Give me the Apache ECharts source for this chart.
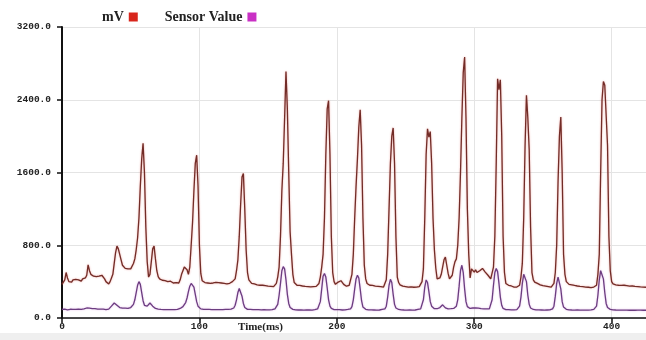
<!DOCTYPE html>
<html>
<head>
<meta charset="utf-8">
<script src="https://cdn.jsdelivr.net/npm/echarts@6/dist/echarts.min.js"></script>
<style>html,body{margin:0;padding:0;background:#fff}#c{width:646px;height:340px}</style>
</head>
<body>
<div id="c"></div>
<script>
// sampling step of both series, in ms
const sampleStepMs = 1;
const seriesNames = ['mV', 'Sensor Value'];
const yTicks = [0, 800, 1600, 2400, 3200];
const xTicks = [0, 100, 200, 300, 400];
const xAxisTitle = 'Time(ms)';

// mV readings, one per ms from t = 0
const mvValues = [
  370,360,420,500,440,400,410,395,420,410,
  425,415,420,412,405,430,415,440,470,585,
  520,480,475,460,470,455,450,460,440,470,
  475,430,400,380,375,400,440,480,600,720,
  790,760,740,640,580,560,545,550,540,555,
  540,560,600,650,750,880,1100,1450,1750,1920,
  1600,1000,620,450,480,620,760,790,650,520,
  455,430,420,415,400,410,395,400,390,405,
  395,385,400,390,380,385,420,480,520,560,
  570,530,480,560,800,1050,1400,1700,1790,1450,
  800,490,410,395,390,400,385,395,380,390,
  385,378,392,380,390,376,385,395,380,388,
  375,390,382,395,400,410,430,520,640,900,
  1250,1550,1590,1200,750,500,420,400,380,395,
  375,385,365,380,360,375,360,370,355,365,
  350,360,348,355,345,350,380,450,560,900,
  1400,1700,2200,2710,2300,1600,950,700,480,390,
  370,360,372,358,365,352,360,348,355,345,
  352,342,350,345,355,348,350,380,450,560,
  700,1100,1800,2300,2390,1800,900,500,400,370,
  380,395,385,410,395,370,360,350,345,360,
  380,480,700,1100,1450,1750,2100,2290,1900,1100,
  580,430,380,370,360,372,358,365,350,360,
  348,355,345,352,340,350,420,700,1200,1700,
  2000,2090,1700,900,450,390,365,360,350,358,
  345,352,340,348,342,350,338,345,340,348,
  345,350,400,540,1100,1800,2080,1990,2050,1700,
  1100,750,550,430,420,440,480,560,640,670,
  580,490,430,420,470,560,620,650,800,1100,
  1600,2200,2700,2870,2200,1200,700,440,540,520,
  505,530,500,515,520,510,545,530,505,490,
  470,455,430,420,560,900,1700,2630,2510,2620,
  2000,900,500,380,370,360,365,352,345,340,
  330,340,335,360,450,600,1100,1900,2450,2200,
  1850,1000,500,420,395,385,380,372,365,360,
  355,345,350,340,345,335,340,330,380,500,
  800,1500,2000,2210,1600,700,480,400,380,370,
  360,365,350,358,345,352,340,348,335,345,
  332,340,330,338,328,335,330,340,332,360,
  480,700,1600,2400,2600,2560,2540,1900,900,520,
  400,375,370,365,372,360,368,358,365,360,
  370,355,360,350,345,352,340,348,338,345,
  335,342,338,340,336,338
];

// Sensor Value readings, one per ms from t = 0
const sensorValues = [
  95,92,98,95,90,93,96,92,95,90,
  94,92,96,93,95,98,100,105,110,115,
  108,105,102,100,104,100,98,102,97,100,
  98,95,92,94,98,110,130,150,165,160,
  140,125,115,110,108,105,108,104,106,110,
  115,125,150,200,280,360,400,370,280,190,
  140,125,130,150,165,155,130,115,105,100,
  98,96,94,96,92,95,93,96,92,94,
  91,95,92,96,94,98,105,115,125,140,
  170,220,290,350,380,385,340,260,180,130,
  110,100,96,94,92,95,91,94,90,93,
  90,92,89,93,90,92,88,91,90,94,
  92,95,93,98,100,110,140,200,280,325,
  310,240,160,115,100,95,92,94,90,92,
  89,91,88,92,89,90,87,91,88,90,
  87,90,88,92,95,100,115,150,250,380,
  520,565,540,420,260,160,115,100,95,92,
  90,92,88,91,89,90,87,90,88,91,
  88,90,87,89,92,95,100,120,180,320,
  460,490,450,330,200,130,105,96,93,90,
  92,90,93,90,88,91,89,92,94,96,
  100,125,200,320,430,470,440,320,190,120,
  100,95,92,90,92,89,91,88,90,87,
  90,88,91,95,98,100,130,230,360,425,
  390,260,150,110,98,94,92,90,91,88,
  90,87,89,88,91,87,90,88,92,94,
  96,100,120,200,340,418,390,290,180,130,
  110,102,100,102,105,115,135,145,130,112,
  104,100,98,102,100,105,105,130,200,350,
  520,580,500,320,180,125,110,105,108,110,
  106,110,105,108,104,102,106,100,98,100,
  96,100,120,200,360,500,545,510,380,230,
  140,105,95,92,90,92,89,90,88,90,
  88,92,100,130,230,380,480,490,400,250,
  150,110,98,94,92,90,92,89,91,88,
  90,87,90,88,91,89,92,100,130,240,
  380,450,440,320,180,120,100,95,92,90,
  91,88,90,87,89,88,90,87,89,86,
  88,86,89,87,88,90,92,95,100,130,
  250,420,520,525,430,280,160,115,100,95,
  92,90,91,88,90,87,89,86,88,87,
  89,86,88,85,87,86,88,85,87,86,
  85,87,86,85,86,85
];

const toPairs = arr => arr.map((v, i) => [i * sampleStepMs, v]);
const lastT = (mvValues.length - 1) * sampleStepMs;

const chart = echarts.init(document.getElementById('c'), null, {renderer: 'canvas'});
const monoLabel = {fontFamily: 'Liberation Mono', fontWeight: 'bold', fontSize: 9.5, color: '#222'};
chart.setOption({
  animation: false,
  backgroundColor: '#fff',
  grid: {left: 62, right: 0, top: 27, bottom: 22, containLabel: false},
  legend: {
    left: 97, top: 5, align: 'right', icon: 'rect', itemWidth: 9, itemHeight: 9, itemGap: 27,
    textStyle: {fontFamily: 'Liberation Serif', fontWeight: 'bold', fontSize: 14, color: '#222'},
    data: [
      {name: seriesNames[0], itemStyle: {color: '#d8261c'}},
      {name: seriesNames[1], itemStyle: {color: '#c930c4'}}
    ]
  },
  xAxis: {
    type: 'value', min: xTicks[0], max: lastT, interval: xTicks[1] - xTicks[0],
    axisLine: {show: true, onZero: false, lineStyle: {color: '#111', width: 1.5}},
    axisTick: {show: true, length: 5, lineStyle: {color: '#111', width: 1.5}},
    axisLabel: Object.assign({margin: 4, showMaxLabel: false}, monoLabel),
    splitLine: {show: true, lineStyle: {color: '#e4e4e4', width: 1}}
  },
  yAxis: {
    type: 'value', min: yTicks[0], max: yTicks[yTicks.length - 1], interval: yTicks[1] - yTicks[0],
    axisLine: {show: true, lineStyle: {color: '#111', width: 2}},
    axisTick: {show: true, length: 5, lineStyle: {color: '#111', width: 1.5}},
    axisLabel: Object.assign({margin: 11, formatter: v => v.toFixed(1)}, monoLabel),
    splitLine: {show: true, lineStyle: {color: '#e4e4e4', width: 1}}
  },
  graphic: [
    {type: 'rect', left: 0, top: 333, shape: {width: 646, height: 7}, style: {fill: '#efefef'}, silent: true, z: -1},
    {type: 'text', left: 238, top: 322, style: {text: xAxisTitle, fontFamily: 'Liberation Serif', fontWeight: 'bold', fontSize: 11, fill: '#222'}}
  ],
  series: [
    {
      name: seriesNames[0], type: 'line', showSymbol: false, symbol: 'none',
      itemStyle: {color: '#d8261c'},
      lineStyle: {color: '#722c27', width: 1.3, shadowColor: 'rgba(220,60,50,0.45)', shadowBlur: 2},
      data: toPairs(mvValues), z: 3
    },
    {
      name: seriesNames[1], type: 'line', showSymbol: false, symbol: 'none',
      itemStyle: {color: '#c930c4'},
      lineStyle: {color: '#6b3d80', width: 1.3, shadowColor: 'rgba(190,80,200,0.4)', shadowBlur: 2},
      data: toPairs(sensorValues), z: 2
    }
  ]
});
</script>
</body>
</html>
